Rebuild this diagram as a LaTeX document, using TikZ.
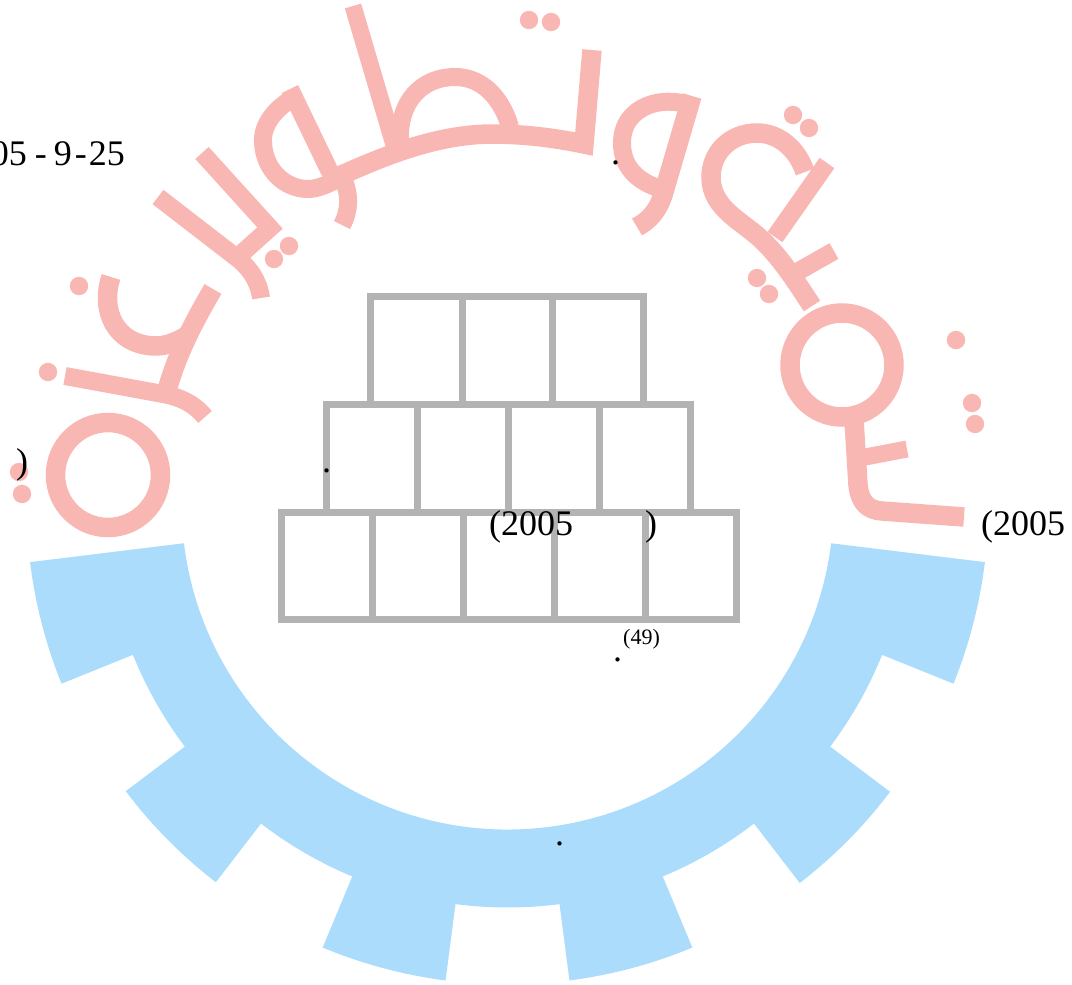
\documentclass[tikz,border=0pt]{standalone}
\usepackage{fontspec}
\usetikzlibrary{calc}
\setmainfont{Liberation Serif}
\definecolor{gearblue}{HTML}{ABDCFB}
\definecolor{scriptpink}{HTML}{F9B7B3}
\definecolor{brickgray}{HTML}{B3B3B3}
\tikzset{
  inkstroke/.style={draw=scriptpink,line width=19.5pt,line cap=butt,line join=miter},
  inkthin/.style={inkstroke,line width=18pt},
  inkring/.style={draw=scriptpink,line width=19.5pt},
  inkdot/.style={fill=scriptpink},
  brick/.style={draw=brickgray,line width=7pt,line cap=rect},
  label/.style={inner sep=0pt,anchor=base west,text=black,font=\fontsize{36}{36}\selectfont},
  smalllabel/.style={label,font=\fontsize{22}{22}\selectfont}
}
\newcommand{\inkdots}[1]{\foreach \p in {#1} \fill[inkdot] \p circle[radius=9.2];}
\begin{document}
\begin{tikzpicture}[x=1pt,y=1pt,yscale=-1]
\useasboundingbox (0,0) rectangle (1072,985);
\clip (0,0) rectangle (1072,985);
% gear
\coordinate (c) at (507.5,503.5);
\fill[gearblue] ($(c)+(7:481)$)
  arc[start angle=7,end angle=22,radius=481] -- ($(c)+(22:404)$)
  arc[start angle=22,end angle=37,radius=404] -- ($(c)+(37:479)$)
  arc[start angle=37,end angle=52.4,radius=479] -- ($(c)+(52.4:404)$)
  arc[start angle=52.4,end angle=67.4,radius=404] -- ($(c)+(67.4:481)$)
  arc[start angle=67.4,end angle=82.6,radius=481] -- ($(c)+(82.6:404)$)
  arc[start angle=82.6,end angle=97.4,radius=404] -- ($(c)+(97.4:481)$)
  arc[start angle=97.4,end angle=112.6,radius=481] -- ($(c)+(112.6:404)$)
  arc[start angle=112.6,end angle=127.6,radius=404] -- ($(c)+(127.6:478)$)
  arc[start angle=127.6,end angle=143,radius=478] -- ($(c)+(143:404)$)
  arc[start angle=143,end angle=158,radius=404] -- ($(c)+(158:481)$)
  arc[start angle=158,end angle=173,radius=481] -- ($(c)+(173:326)$)
  arc[start angle=173,end angle=7,radius=326] -- cycle;
% bricks
\draw[brick] (370,296) rectangle (643,404);
\draw[brick] (462,296) -- (462,404) (552,296) -- (552,404);
\draw[brick] (326,404) rectangle (690,512);
\draw[brick] (417,404) -- (417,512) (508,404) -- (508,512) (599,404) -- (599,512);
\draw[brick] (281,512) rectangle (736.5,619.5);
\draw[brick] (372,512) -- (372,619.5) (463,512) -- (463,619.5) (554,512) -- (554,619.5) (645.5,512) -- (645.5,619.5);
% script, left part
\draw[inkring] (108,475) circle[radius=52.5];
\draw[inkthin] (65,376) -- (163,394) .. controls (185,398) and (197,407) .. (205,417);
\draw[inkstroke] (213,289) .. controls (190,328) and (175,360) .. (166,394);
\draw[inkstroke] (111,277) .. controls (100,310) and (115,345) .. (155,346) .. controls (165,346) and (175,343) .. (188,335);
\draw[inkthin] (158,197) -- (237,258) .. controls (250,268) and (259,282) .. (261,298);
\draw[inkthin] (202,153) -- (270,228) -- (240,255);
\draw[inkthin] (295,97) .. controls (275,108) and (262,125) .. (263,142) .. controls (264,170) and (285,189) .. (308,189) .. controls (318,189) and (328,184) .. (338,179);
\draw[inkthin] (290,89) -- (330,172);
\draw[inkthin] (343,178) .. controls (350,195) and (350,210) .. (342,225);
\draw[inkstroke] (326,182) .. controls (375,160) and (430,135) .. (490,134) .. controls (525,134) and (555,138) .. (584,144) -- (592,50);
\draw[inkthin,line width=17pt] (353,6) -- (394,145);
\draw[inkthin] (400,142) .. controls (398,100) and (423,77) .. (455,77) .. controls (485,77) and (503,102) .. (510,127);
% script, right part
\draw[inkstroke] (692,96) -- (663,195) .. controls (658,210) and (650,220) .. (637,227);
\draw[inkthin] (697,108) .. controls (665,93) and (622,105) .. (622,143) .. controls (622,165) and (635,180) .. (658,188);
\draw[inkthin] (827,163) -- (775,237);
\draw[inkstroke] (805,172) .. controls (797,148) and (778,133) .. (757,133) .. controls (730,133) and (711,153) .. (711,177) .. controls (711,210) and (745,222) .. (765,243) .. controls (782,260) and (795,280) .. (812,306);
\draw[inkthin] (834,251) -- (797,272);
\draw[inkring] (842,365) circle[radius=52];
\draw[inkstroke] (854,420) -- (858,485) .. controls (860,503) and (868,510) .. (882,511) -- (964,517);
\draw[inkthin,line width=17pt] (907,449) -- (860,458);
\inkdots{(79,286),(48,372),(19,472),(22,494),(274,259),(289,246),(529,20),(551,22),(793,115),(809,128),(757,278),(769,294),(956,340),(972,403),(975,424)}
% text
\node[label,anchor=base east] (date) at (125,165) {05\kern8pt-\kern7pt 9\kern3pt-\kern2pt 25};
\node[label] (parA) at (16,473) {)};
\node[label] (yearA) at (489,535) {(2005};
\node[label] (parB) at (645,535) {)};
\node[label] (yearB) at (981,535) {(2005};
\node[smalllabel] (ref) at (623,644) {(49)};
\node[label] (dotA) at (611,164) {.};
\node[label] (dotB) at (322,472) {.};
\node[label] (dotC) at (613,661) {.};
\node[label] (dotD) at (555,845) {.};
\end{tikzpicture}
\end{document}
